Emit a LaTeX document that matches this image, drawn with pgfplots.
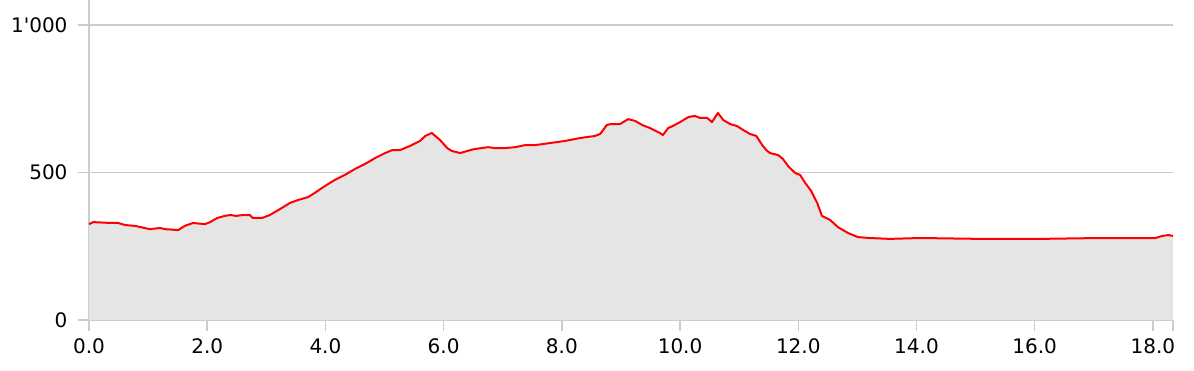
\documentclass[border=0pt]{standalone}
\usepackage{fontspec}
\setmainfont{DejaVu Sans}
\usepackage{pgfplots}
\pgfplotsset{compat=1.18}
\definecolor{axgray}{HTML}{CCCCCC}
\definecolor{fillgray}{HTML}{E5E5E5}
\begin{document}
\begin{tikzpicture}
\begin{axis}[
 scale only axis, width=1084pt, height=320pt,
 xmin=0, xmax=18.34, ymin=0, ymax=1085,
 axis lines=left,
 axis line style={draw=axgray, line width=1.8pt, -},
 tick style={draw=axgray, line width=1.5pt},
 tick align=outside,
 major tick length=11pt,
 xtick={0,2,...,18}, extra x ticks={18.34}, extra x tick labels={},
 ytick={0,500,1000}, yticklabels={0,500,1\textquotesingle 000},
 xticklabel={\pgfmathprintnumber[fixed,fixed zerofill,precision=1]{\tick}},
 /pgf/number format/assume math mode=true,
 tick label style={font=\fontsize{20}{23}\selectfont, text=black},
 xticklabel style={yshift=-4pt},
 yticklabel style={xshift=-7pt},
 ymajorgrids, grid style={draw=axgray, line width=1.5pt},
 clip=false,
]
\addplot[draw=none, fill=fillgray] coordinates {
(0,325)(0.07,332)(0.36,329)(0.49,329)(0.61,322)(0.78,319)(1.03,308)(1.2,312)(1.29,308)(1.51,305)(1.62,319)(1.76,329)(1.96,325)(2.05,332)(2.17,346)(2.30,353)(2.39,356)(2.49,353)(2.61,356)(2.72,356)(2.77,346)(2.93,346)(3.06,356)(3.23,376)(3.40,397)(3.54,407)(3.71,417)(3.82,431)(3.99,454)(4.16,475)(4.33,492)(4.50,512)(4.67,529)(4.84,549)(5.01,566)(5.13,576)(5.26,576)(5.43,590)(5.60,607)(5.69,624)(5.80,634)(5.94,610)(6.06,583)(6.14,573)(6.28,566)(6.45,576)(6.53,580)(6.65,583)(6.75,586)(6.87,583)(7.04,583)(7.21,586)(7.38,593)(7.55,593)(7.80,600)(8.05,607)(8.31,617)(8.56,624)(8.65,631)(8.76,661)(8.82,664)(8.98,664)(9.12,681)(9.24,675)(9.36,661)(9.49,651)(9.66,634)(9.71,627)(9.80,651)(9.88,658)(10.0,671)(10.14,688)(10.25,692)(10.34,685)(10.46,685)(10.54,671)(10.64,702)(10.73,678)(10.85,664)(10.96,658)(11.07,644)(11.18,631)(11.29,624)(11.39,593)(11.46,576)(11.52,566)(11.66,559)(11.74,546)(11.84,519)(11.95,498)(12.03,492)(12.13,461)(12.22,437)(12.32,397)(12.40,353)(12.54,339)(12.67,315)(12.84,295)(13.01,281)(13.21,278)(13.55,275)(14.06,278)(15.08,275)(16.09,275)(17.11,278)(18.04,278)(18.16,285)(18.26,288)(18.34,285)
} \closedcycle;
\addplot[red, line width=2pt, line join=round] coordinates {
(0,325)(0.07,332)(0.36,329)(0.49,329)(0.61,322)(0.78,319)(1.03,308)(1.2,312)(1.29,308)(1.51,305)(1.62,319)(1.76,329)(1.96,325)(2.05,332)(2.17,346)(2.30,353)(2.39,356)(2.49,353)(2.61,356)(2.72,356)(2.77,346)(2.93,346)(3.06,356)(3.23,376)(3.40,397)(3.54,407)(3.71,417)(3.82,431)(3.99,454)(4.16,475)(4.33,492)(4.50,512)(4.67,529)(4.84,549)(5.01,566)(5.13,576)(5.26,576)(5.43,590)(5.60,607)(5.69,624)(5.80,634)(5.94,610)(6.06,583)(6.14,573)(6.28,566)(6.45,576)(6.53,580)(6.65,583)(6.75,586)(6.87,583)(7.04,583)(7.21,586)(7.38,593)(7.55,593)(7.80,600)(8.05,607)(8.31,617)(8.56,624)(8.65,631)(8.76,661)(8.82,664)(8.98,664)(9.12,681)(9.24,675)(9.36,661)(9.49,651)(9.66,634)(9.71,627)(9.80,651)(9.88,658)(10.0,671)(10.14,688)(10.25,692)(10.34,685)(10.46,685)(10.54,671)(10.64,702)(10.73,678)(10.85,664)(10.96,658)(11.07,644)(11.18,631)(11.29,624)(11.39,593)(11.46,576)(11.52,566)(11.66,559)(11.74,546)(11.84,519)(11.95,498)(12.03,492)(12.13,461)(12.22,437)(12.32,397)(12.40,353)(12.54,339)(12.67,315)(12.84,295)(13.01,281)(13.21,278)(13.55,275)(14.06,278)(15.08,275)(16.09,275)(17.11,278)(18.04,278)(18.16,285)(18.26,288)(18.34,285)
};
\end{axis}
\pgfresetboundingbox
\path (current axis.south west) ++(-89pt,-51pt) rectangle ++(1194pt,371pt);
\end{tikzpicture}
\end{document}
